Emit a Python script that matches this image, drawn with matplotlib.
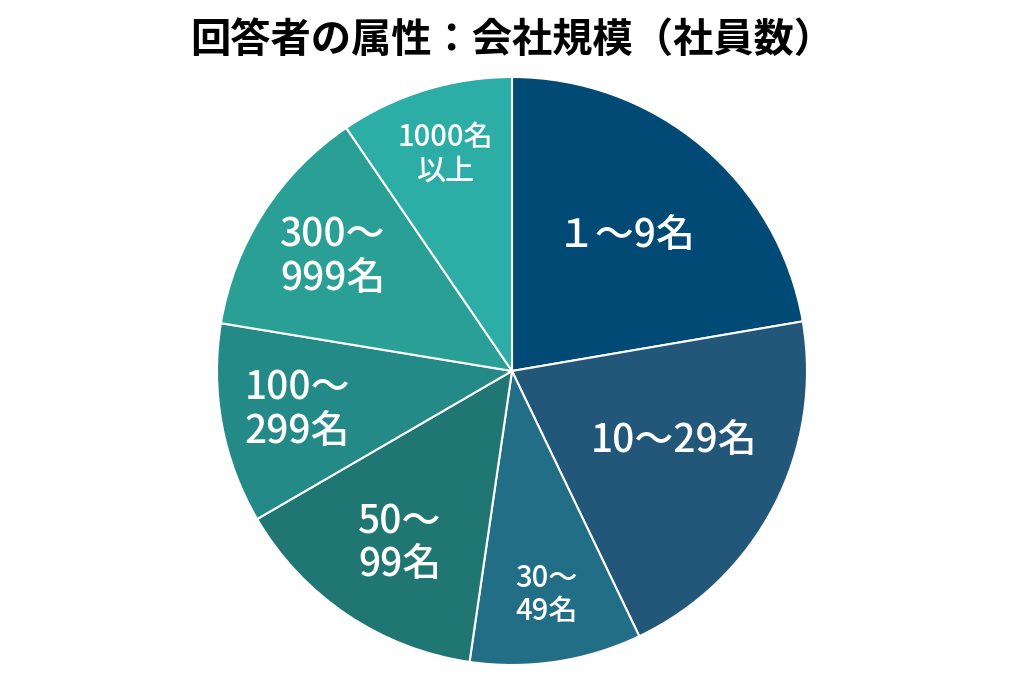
import numpy as np
import matplotlib
matplotlib.use("Agg")
import matplotlib.pyplot as plt

plt.rcParams['font.family'] = ['Noto Sans CJK JP', 'DejaVu Sans']

# share of respondents by company size (%)
labels = ["１～9名", "10～29名", "30～\n49名", "50～\n99名",
          "100～\n299名", "300～\n999名", "1000名\n以上"]
shares = [22.3, 20.6, 9.4, 14.3, 11.0, 12.9, 9.5]

colors = ["#004a75", "#22577a", "#226e87", "#1f7673",
          "#238a87", "#2a9f95", "#2caea6"]
# label placement (fraction of radius, angle nudge in degrees) and font size
label_r = [0.60, 0.60, 0.77, 0.70, 0.74, 0.72, 0.77]
label_da = [0, 4, 0, 1, 0, 0, 0]
label_fs = [28, 28, 21, 28, 28, 28, 21]

fig = plt.figure(figsize=(10.24, 6.82), dpi=100)
ax = fig.add_axes([217 / 1024, 17 / 682, 590 / 1024, 588 / 682])

wedges, _ = ax.pie(shares, colors=colors, startangle=90, counterclock=False,
                   wedgeprops=dict(edgecolor="white", linewidth=1.5))

for w, lab, r, da, fs in zip(wedges, labels, label_r, label_da, label_fs):
    mid = np.deg2rad((w.theta1 + w.theta2) / 2 + da)
    ax.text(r * np.cos(mid), r * np.sin(mid), lab, ha="center", va="center",
            color="white", fontsize=fs, fontweight="medium", linespacing=1.1)

ax.set_xlim(-1, 1)
ax.set_ylim(-1, 1)
ax.set_aspect("auto")
ax.axis("off")

fig.text(0.5, 1 - 40 / 682, "回答者の属性：会社規模（社員数）", ha="center", va="center",
         fontsize=29, fontweight="bold")

fig.savefig("out.png", dpi=100, facecolor="white")
